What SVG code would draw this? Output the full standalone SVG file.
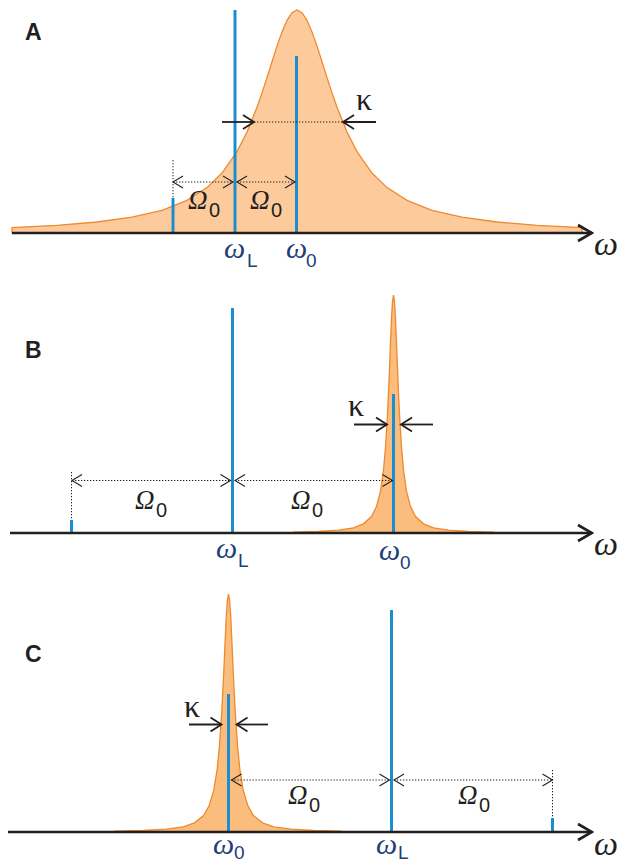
<svg xmlns="http://www.w3.org/2000/svg" width="620" height="864" viewBox="0 0 620 864">
<style>
.fillA{fill:#FDCA9C;stroke:#EE8A2E;stroke-width:1.3}
.fillB{fill:#FBBD7E;stroke:#EE8A2E;stroke-width:1.3}
.axis{stroke:#231F20;stroke-width:2.6;fill:none;marker-end:url(#axhead)}
.blue{stroke:#1C8ECF;stroke-width:3;fill:none}
.dot{stroke:#231F20;stroke-width:1;stroke-dasharray:1.3 1.7;fill:none}
.om{stroke:#231F20;stroke-width:1;stroke-dasharray:1.3 1.7;fill:none;marker-start:url(#thin);marker-end:url(#thin)}
.kap{stroke:#231F20;stroke-width:1.8;fill:none;marker-end:url(#kh)}
.lab{font-family:"Liberation Sans",Arial,sans-serif;font-weight:bold;font-size:23px;fill:#231F20}
.w{font-family:"Liberation Serif","Times New Roman",serif;font-style:italic;font-size:30px;fill:#213D7A}
.ws{font-family:"Liberation Sans",Arial,sans-serif;font-size:19px;fill:#213D7A}
.wax{font-family:"Liberation Serif","Times New Roman",serif;font-style:italic;font-size:34px;fill:#231F20}
.O{font-family:"Liberation Serif","Times New Roman",serif;font-style:italic;font-size:27px;fill:#231F20}
.Os{font-family:"Liberation Sans",Arial,sans-serif;font-size:20px;fill:#231F20}
.k{font-family:"Liberation Serif","Times New Roman",serif;font-size:32px;fill:#231F20}
</style>
<defs>
<marker id="axhead" markerUnits="userSpaceOnUse" viewBox="-16 -10 18 20" markerWidth="18" markerHeight="20" refX="0" refY="0" orient="auto">
<path d="M-14,-8 L0,0 L-14,8" fill="none" stroke="#231F20" stroke-width="2.6" stroke-dasharray="none"/>
</marker>
<marker id="thin" markerUnits="userSpaceOnUse" viewBox="-12 -8 14 16" markerWidth="14" markerHeight="16" refX="0" refY="0" orient="auto-start-reverse">
<path d="M-10,-6 L0,0 L-10,6" fill="none" stroke="#231F20" stroke-width="1.1" stroke-dasharray="none"/>
</marker>
<marker id="kh" markerUnits="userSpaceOnUse" viewBox="-13 -9 15 18" markerWidth="15" markerHeight="18" refX="0" refY="0" orient="auto">
<path d="M-11,-7 L0,0 L-11,7" fill="none" stroke="#231F20" stroke-width="1.8" stroke-dasharray="none"/>
</marker>
</defs>

<g id="panelA">
<text class="lab" x="25" y="40">A</text>
<path id="A-curve" class="fillA" d="M12,233 L12,227.5 L57,225.3 L97,222 L132,217.2 L162,210.3 L187,200.4 L207,187.6 L222,173 L237,151.6 L247,132 L257,107.2 L262,92.9 L267,77.6 L272,61.7 L277,46.1 L282,31.9 L287,20.3 L292,12.7 L297,10 L302,12.7 L307,20.3 L312,31.9 L317,46.1 L322,61.7 L327,77.6 L332,92.9 L337,107.2 L347,132 L357,151.6 L372,173 L387,187.6 L407,200.4 L432,210.3 L462,217.2 L497,222 L537,225.3 L582,227.5 L582,233 Z"/>
<line class="blue" x1="173" y1="198" x2="173" y2="233"/>
<line class="blue" x1="235" y1="10" x2="235" y2="233"/>
<line class="blue" x1="296.5" y1="56" x2="296.5" y2="233"/>
<line class="axis" x1="12" y1="233" x2="592" y2="233"/>
<text class="wax" x="594" y="255">ω</text>
<text class="w" x="224" y="258">ω</text><text class="ws" x="247" y="267">L</text>
<text class="w" x="286" y="258">ω</text><text class="ws" x="306" y="267">0</text>
<text class="O" x="188" y="209">Ω</text><text class="Os" x="209" y="217">0</text>
<text class="O" x="250" y="209">Ω</text><text class="Os" x="271" y="217">0</text>
<text class="k" x="356" y="110">κ</text>
</g>

<g id="panelB">
<text class="lab" x="25" y="358">B</text>
<path id="B-curve" class="fillB" d="M293.5,533 L293.5,532.15 L318.5,531.5 L338.5,530.2 L353.5,527.8 L363.5,523.85 L371.5,516.5 L376.5,506.6 L380.5,491.2 L383.5,470 L385.5,447.3 L387.5,414 L388.5,392.5 L389.5,368.2 L390.5,342.6 L391.5,318.8 L392.5,301.4 L393.5,295 L394.5,301.4 L395.5,318.8 L396.5,342.6 L397.5,368.2 L398.5,392.5 L399.5,414 L401.5,447.3 L403.5,470 L406.5,491.2 L410.5,506.6 L415.5,516.5 L423.5,523.85 L433.5,527.8 L448.5,530.2 L468.5,531.5 L493.5,532.15 L493.5,533 Z"/>
<line class="blue" x1="71.5" y1="520" x2="71.5" y2="533"/>
<line class="blue" x1="232.5" y1="308" x2="232.5" y2="533"/>
<line class="blue" x1="393.5" y1="394" x2="393.5" y2="533"/>
<line class="axis" x1="10" y1="533" x2="592" y2="533"/>
<text class="wax" x="594" y="555">ω</text>
<text class="w" x="216" y="558">ω</text><text class="ws" x="238" y="567">L</text>
<text class="w" x="379" y="560">ω</text><text class="ws" x="400" y="569">0</text>
<text class="O" x="135" y="509">Ω</text><text class="Os" x="156" y="517">0</text>
<text class="O" x="291" y="509">Ω</text><text class="Os" x="312" y="517">0</text>
<text class="k" x="348" y="416">κ</text>
</g>

<g id="panelC">
<text class="lab" x="25" y="662">C</text>
<path id="C-curve" class="fillB" d="M115.2,832 L115.2,831.15 L143.5,830.5 L166.2,829.2 L183.2,826.8 L194.5,822.85 L203.6,815.5 L209.2,805.6 L213.8,790.2 L217.2,769 L219.4,746.3 L221.7,713 L222.8,691.5 L224,667.2 L225.1,641.6 L226.2,617.8 L227.4,600.4 L228.5,594 L229.6,600.4 L230.8,617.8 L231.9,641.6 L233,667.2 L234.2,691.5 L235.3,713 L237.6,746.3 L239.8,769 L243.2,790.2 L247.8,805.6 L253.4,815.5 L262.5,822.85 L273.8,826.8 L290.8,829.2 L313.5,830.5 L341.5,831.15 L341.5,832 Z"/>
<line class="blue" x1="552.5" y1="818" x2="552.5" y2="832"/>
<line class="blue" x1="391.5" y1="610" x2="391.5" y2="832"/>
<line class="blue" x1="228.5" y1="694" x2="228.5" y2="832"/>
<line class="axis" x1="8" y1="832" x2="592" y2="832"/>
<text class="wax" x="594" y="855">ω</text>
<text class="w" x="213" y="854">ω</text><text class="ws" x="234" y="859">0</text>
<text class="w" x="376" y="854">ω</text><text class="ws" x="398" y="859">L</text>
<text class="O" x="288" y="804">Ω</text><text class="Os" x="309" y="812">0</text>
<text class="O" x="458" y="804">Ω</text><text class="Os" x="479" y="812">0</text>
<text class="k" x="184" y="717">κ</text>
</g>

<g id="connectors">
<line class="dot" x1="173" y1="160" x2="173" y2="198"/>
<line class="om" x1="173" y1="182" x2="233" y2="182"/>
<line class="om" x1="237" y1="182" x2="295" y2="182"/>
<line class="kap" x1="222" y1="122" x2="254" y2="122"/>
<line class="dot" x1="254" y1="122" x2="343" y2="122"/>
<line class="kap" x1="376" y1="122" x2="343" y2="122"/>

<line class="dot" x1="71.5" y1="472" x2="71.5" y2="520"/>
<line class="om" x1="72" y1="480.5" x2="230.5" y2="480.5"/>
<line class="om" x1="235" y1="480.5" x2="392.5" y2="480.5"/>
<line class="kap" x1="354" y1="424.5" x2="387" y2="424.5"/>
<line class="kap" x1="433" y1="424.5" x2="401" y2="424.5"/>

<line class="dot" x1="552.5" y1="770" x2="552.5" y2="818"/>
<line class="om" x1="231.5" y1="780" x2="389.5" y2="780"/>
<line class="om" x1="394" y1="780" x2="552.5" y2="780"/>
<line class="kap" x1="189" y1="724.5" x2="221.5" y2="724.5"/>
<line class="kap" x1="268" y1="724.5" x2="236.5" y2="724.5"/>
</g>
</svg>
